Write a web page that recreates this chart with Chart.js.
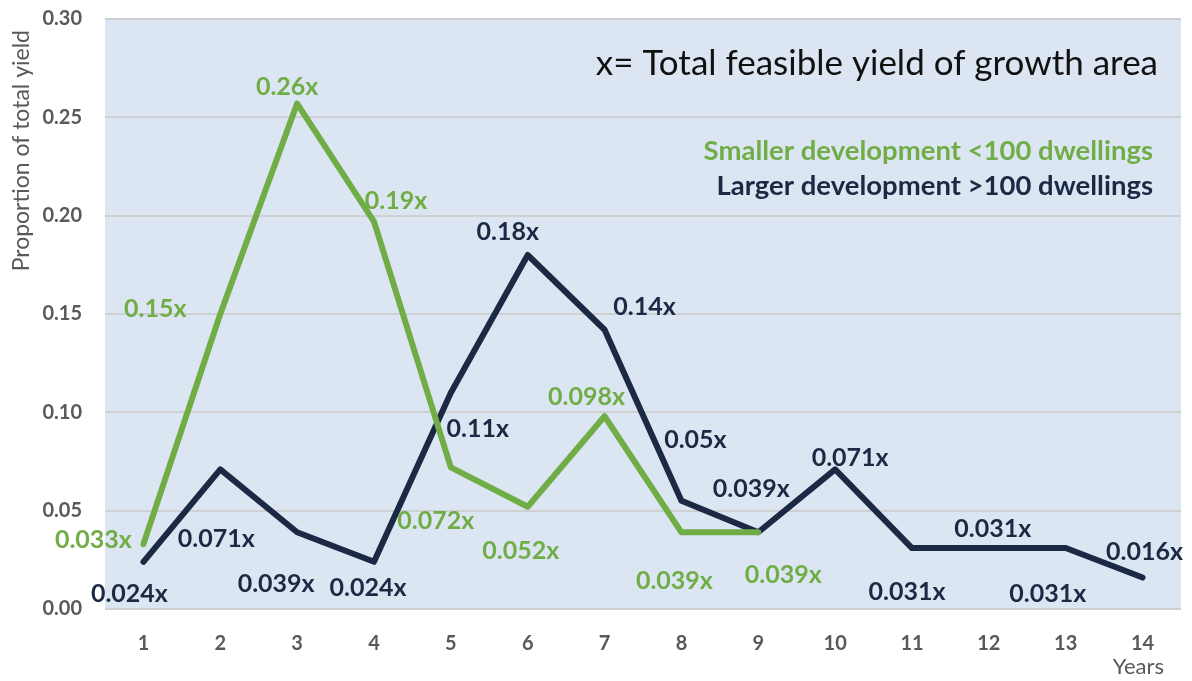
<!DOCTYPE html>
<html>
<head>
<meta charset="utf-8">
<script src="https://cdn.jsdelivr.net/npm/chart.js@4"></script>
<style>
  html, body { margin: 0; padding: 0; background: #fff; }
  #wrap { width: 1192px; height: 681px; }
</style>
</head>
<body>
<div id="wrap"><canvas id="chart" width="1192" height="681"></canvas></div>
<script>
const years = ['1','2','3','4','5','6','7','8','9','10','11','12','13','14'];
const smallerValues = [0.033, 0.15, 0.257, 0.197, 0.072, 0.052, 0.098, 0.039, 0.039];
const largerValues = [0.024, 0.071, 0.039, 0.024, 0.11, 0.18, 0.142, 0.055, 0.039, 0.071, 0.031, 0.031, 0.031, 0.016];
const smallerLabels = ['0.033x','0.15x','0.26x','0.19x','0.072x','0.052x','0.098x','0.039x','0.039x'];
const largerLabels = ['0.024x','0.071x','0.039x','0.024x','0.11x','0.18x','0.14x','0.05x','0.039x','0.071x','0.031x','0.031x','0.031x','0.016x'];
const yTicks = [0, 0.05, 0.10, 0.15, 0.20, 0.25, 0.30];

// label placement relative to each point (pixels)
const smallerOffsets = [[-50,-4],[-65,-5],[-10,-17],[22,-21],[-15,54],[-7,44],[-18,-19],[-7,49],[25,43]];
const largerOffsets = [[-14,32],[-4,70],[-21,52],[-6,26],[27,36],[-20,-23],[40,-23],[14,-61],[-7,-43],[15,-11],[-5,44],[4,-19],[-18,46],[2,-26]];

const GREEN = '#70ad47';
const NAVY = '#1b2944';
const GREY = '#595959';
const FONT = 'Lato, "Open Sans", sans-serif';

const decor = {
  id: 'decor',
  beforeDatasetsDraw(chart) {
    const { ctx, chartArea: a } = chart;
    ctx.save();
    ctx.fillStyle = '#dce6f2';
    ctx.fillRect(a.left, a.top, a.right - a.left, a.bottom - a.top);
    // gridlines over the fill
    const y = chart.scales.y;
    ctx.strokeStyle = '#cfd0d2';
    ctx.lineWidth = 2;
    yTicks.forEach(t => {
      const py = Math.round(y.getPixelForValue(t));
      ctx.beginPath();
      ctx.moveTo(a.left, py);
      ctx.lineTo(a.right, py);
      ctx.stroke();
    });
    ctx.restore();
  },
  afterDatasetsDraw(chart) {
    const { ctx } = chart;
    ctx.save();
    ctx.textAlign = 'center';
    ctx.textBaseline = 'middle';
    ctx.font = 'bold 25px ' + FONT;
    const sets = [[0, smallerLabels, smallerOffsets, GREEN], [1, largerLabels, largerOffsets, NAVY]];
    sets.forEach(([idx, labels, offs, col]) => {
      const meta = chart.getDatasetMeta(idx);
      ctx.fillStyle = col;
      meta.data.forEach((pt, i) => {
        ctx.fillText(labels[i], pt.x + offs[i][0], pt.y + offs[i][1]);
      });
    });

    // title and legend text
    ctx.textAlign = 'right';
    ctx.fillStyle = '#111';
    ctx.font = '35px ' + FONT;
    ctx.fillText('x= Total feasible yield of growth area', 1158, 64);
    ctx.font = 'bold 27.5px ' + FONT;
    ctx.fillStyle = GREEN;
    ctx.fillText('Smaller development <100 dwellings', 1153, 151);
    ctx.fillStyle = NAVY;
    ctx.fillText('Larger development >100 dwellings', 1153, 186);

    ctx.fillStyle = GREY;
    ctx.font = '22px ' + FONT;
    ctx.fillText('Years', 1164, 667);

    // y axis title, pinned near the top like the original
    ctx.translate(22, 30);
    ctx.rotate(-Math.PI / 2);
    ctx.textAlign = 'right';
    ctx.font = '23px ' + FONT;
    ctx.fillText('Proportion of total yield', 0, 0);
    ctx.restore();
  }
};

new Chart(document.getElementById('chart'), {
  type: 'line',
  data: {
    labels: years,
    datasets: [
      {
        label: 'Smaller development <100 dwellings',
        data: smallerValues,
        borderColor: GREEN,
        borderWidth: 6,
        pointRadius: 0,
        tension: 0,
        borderJoinStyle: 'round',
        borderCapStyle: 'round'
      },
      {
        label: 'Larger development >100 dwellings',
        data: largerValues,
        borderColor: NAVY,
        borderWidth: 6,
        pointRadius: 0,
        tension: 0,
        borderJoinStyle: 'round',
        borderCapStyle: 'round'
      }
    ]
  },
  options: {
    responsive: false,
    animation: false,
    layout: { padding: { top: 19, right: 11, left: 0, bottom: 0 } },
    plugins: {
      legend: { display: false },
      tooltip: { enabled: false }
    },
    scales: {
      x: {
        offset: true,
        grid: { display: false, drawTicks: false },
        border: { display: false },
        ticks: { color: GREY, font: { family: FONT, size: 20, weight: 'bold' }, padding: 23, maxRotation: 0 },
        afterFit(s) { s.height = 72; s.paddingLeft = 0; s.paddingRight = 0; }
      },
      y: {
        min: 0,
        max: 0.30,
        grid: { display: false, drawTicks: false },
        border: { display: false },
        ticks: {
          stepSize: 0.05,
          color: GREY,
          padding: 23,
          font: { family: FONT, size: 20, weight: 'bold' },
          callback: v => v.toFixed(2)
        },
        afterFit(s) { s.width = 105; s.paddingTop = 0; s.paddingBottom = 0; }
      }
    }
  },
  plugins: [decor]
});
</script>
</body>
</html>
